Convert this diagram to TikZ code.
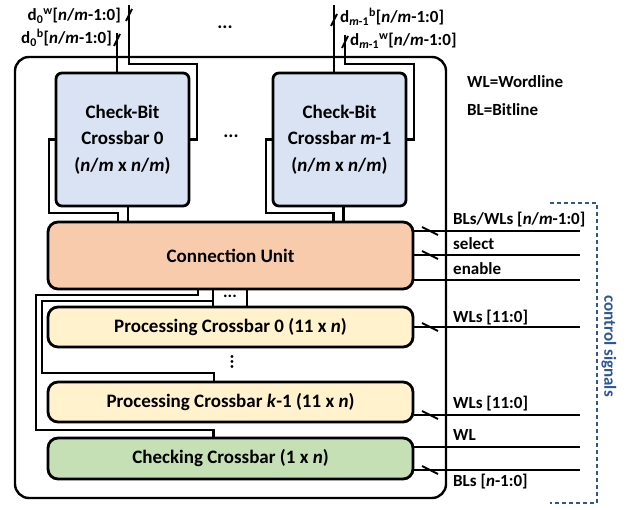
\documentclass[tikz,border=0pt]{standalone}
\usepackage{fontspec}
\setmainfont{Carlito}
\usepackage{xcolor}
\usepackage{tikz}
\usetikzlibrary{arrows.meta, calc, positioning}

\definecolor{cbblue}{HTML}{DAE3F3}
\definecolor{cupeach}{HTML}{F8CBAD}
\definecolor{pcyellow}{HTML}{FFF2CC}
\definecolor{chkgreen}{HTML}{C5E0B4}
\definecolor{ctrlblue}{HTML}{2F5597}

\tikzset{
  blk/.style={draw, line width=2.8pt, rounded corners=10pt, inner sep=0pt, align=center,
    font=\fontsize{19}{26.5}\selectfont\bfseries},
  wire/.style={line width=2.3pt},
  tick/.style={line width=2pt},
  lbl/.style={inner sep=0pt, font=\fontsize{17}{20}\selectfont\bfseries},
}

\begin{document}
\begin{tikzpicture}[x=1pt, y=-1pt]
    \useasboundingbox (0,0) rectangle (631,510);

    % Outer frame
    \draw[line width=2.4pt, rounded corners=14pt] (15,57) rectangle (446,498);

    % Check-bit crossbars
    \node[blk, rounded corners=6pt, fill=cbblue, minimum width=133pt, minimum height=133pt] (cb0) at (122.5,139.5)
        {Check-Bit\\Crossbar 0\\(\textit{n}/\textit{m} x \textit{n}/\textit{m})};
    \node[blk, rounded corners=6pt, fill=cbblue, minimum width=133pt, minimum height=133pt] (cbm) at (339.5,139.5)
        {Check-Bit\\Crossbar \textit{m}-1\\(\textit{n}/\textit{m} x \textit{n}/\textit{m})};

    % Units below
    \node[blk, fill=cupeach, minimum width=365pt, minimum height=67pt] (cu) at (230.5,255.5) {Connection Unit};
    \node[blk, fill=pcyellow, minimum width=365pt, minimum height=40pt] (pc0) at (230.5,327)
        {Processing Crossbar 0 (11 x \textit{n})};
    \node[blk, fill=pcyellow, minimum width=365pt, minimum height=40pt] (pck) at (230.5,402)
        {Processing Crossbar \textit{k}-1 (11 x \textit{n})};
    \node[blk, fill=chkgreen, minimum width=365pt, minimum height=41pt] (chk) at (230.5,458.5)
        {Checking Crossbar (1 x \textit{n})};

    % Dots
    \node[lbl, font=\fontsize{19}{20}\selectfont\bfseries] (dtop) at (225,27) {...};
    \node[lbl, font=\fontsize{19}{20}\selectfont\bfseries] (dmid) at (231,136) {...};
    \node[lbl] (dcu) at (230,296) {...};
    \node[lbl, rotate=90, font=\fontsize{19}{20}\selectfont\bfseries] (dpc) at (232,362) {...};

    % Data ports of crossbar 0
    \coordinate (d0w) at (129,5);
    \coordinate (d0b) at (117,33);
    \draw[wire] (d0b) -- (d0b |- cb0.north);
    \draw[wire] (d0w) -- (129,64) -- (197,64) -- (197,139.5) -- (cb0.east);
    \draw[wire] (cb0.west) -- (49,139.5) -- (49,213) -- (118,213) -- (118,222);
    \draw[wire] (128,206) -- (128,222);
    \draw[tick] (114,46) -- ++(6,-12);
    \draw[tick] (126,21) -- ++(6,-12);
    \node[lbl, anchor=base east] (l0w) at (121,21) {d\textsubscript{0}\textsuperscript{w}[\textit{n}/\textit{m}-1:0]};
    \node[lbl, anchor=base east] (l0b) at (112,44) {d\textsubscript{0}\textsuperscript{b}[\textit{n}/\textit{m}-1:0]};

    % Data ports of crossbar m-1
    \coordinate (dmb) at (334,5);
    \coordinate (dmw) at (345,35);
    \draw[wire] (dmb) -- (dmb |- cbm.north);
    \draw[wire] (dmw) -- (345,64) -- (414,64) -- (414,139.5) -- (cbm.east);
    \draw[wire] (cbm.west) -- (266,139.5) -- (266,213) -- (333.5,213) -- (333.5,222);
    \draw[wire] (343.5,206) -- (343.5,222);
    \draw[tick] (331,26) -- ++(6,-12);
    \draw[tick] (342,48) -- ++(6,-12);
    \node[lbl, anchor=base west] (lmb) at (340,23) {d\textsubscript{\textit{m}-1}\textsuperscript{b}[\textit{n}/\textit{m}-1:0]};
    \node[lbl, anchor=base west] (lmw) at (350,46) {d\textsubscript{\textit{m}-1}\textsuperscript{w}[\textit{n}/\textit{m}-1:0]};

    % Connection unit to processing / checking crossbars
    \draw[wire] (198,289) -- (198,295) -- (36,295) -- (36,430) -- (213.5,430) -- (213.5,438);
    \draw[wire] (213,289) -- (213,307);
    \draw[wire] (213,301) -- (42,301) -- (42,373) -- (214,373) -- (214,382);
    \draw[wire] (247,289) -- (247,307);

    % Control signals
    \coordinate (sbw) at (580,231);
    \coordinate (ssel) at (580,255);
    \coordinate (sen) at (580,280);
    \coordinate (swl0) at (580,327);
    \coordinate (swlk) at (580,415);
    \coordinate (swl) at (580,447);
    \coordinate (sbl) at (580,470);
    \draw[wire] (sbw) -- (cu.east |- sbw);
    \draw[wire] (ssel) -- (cu.east |- ssel);
    \draw[wire] (sen) -- (cu.east |- sen);
    \draw[wire] (swl0) -- (pc0.east |- swl0);
    \draw[wire] (swlk) -- (pck.east |- swlk);
    \draw[wire] (swl) -- (chk.east |- swl);
    \draw[wire] (sbl) -- (chk.east |- sbl);
    \draw[tick] (422,227) -- ++(16,8);
    \draw[tick] (422,251) -- ++(16,8);
    \draw[tick] (422,323) -- ++(16,8);
    \draw[tick] (422,411) -- ++(16,8);
    \draw[tick] (422,466) -- ++(16,8);
    \node[lbl, anchor=base west] (tbw) at (453,225) {BLs/WLs [\textit{n}/\textit{m}-1:0]};
    \node[lbl, anchor=base west] (tsel) at (453,250) {select};
    \node[lbl, anchor=base west] (ten) at (453,275) {enable};
    \node[lbl, anchor=base west] (twl0) at (453,322) {WLs [11:0]};
    \node[lbl, anchor=base west] (twlk) at (453,408) {WLs [11:0]};
    \node[lbl, anchor=base west] (twl) at (453,440) {WL};
    \node[lbl, anchor=base west] (tbl) at (453,486) {BLs [\textit{n}-1:0]};

    % Legend
    \node[lbl, anchor=west] (lgw) at (467,82) {WL=Wordline};
    \node[lbl, anchor=west] (lgb) at (467,110) {BL=Bitline};

    % Control signals bracket
    \draw[ctrlblue, line width=2.4pt, dash pattern=on 4pt off 3pt] (550,203) -- (597,203) -- (597,503) -- (550,503);
    \node[lbl, text=ctrlblue, rotate=-90] (ctl) at (609,346) {control signals};
\end{tikzpicture}
\end{document}
